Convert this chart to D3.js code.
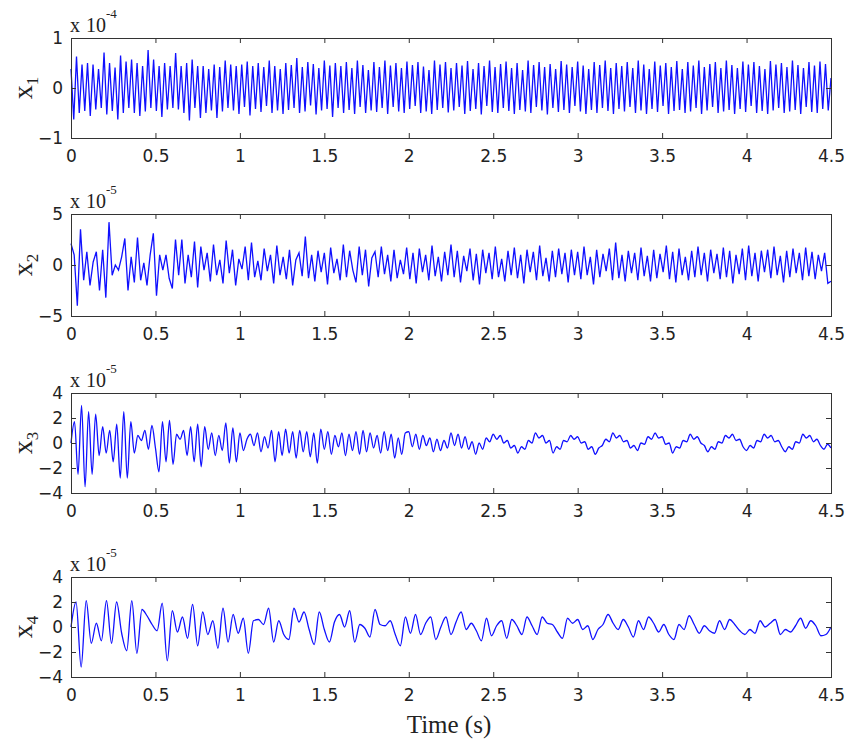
<!DOCTYPE html>
<html>
<head>
<meta charset="utf-8">
<script src="https://d3js.org/d3.v7.min.js"></script>
<style>
    body { margin: 0; background: #fff; }
    svg { display: block; }
    .tick text { font-family: 'DejaVu Sans', sans-serif; font-size: 17px; fill: #222; }
    .serif { font-family: 'Liberation Serif', 'Times New Roman', serif; fill: #222; }
</style>
</head>
<body>
<div id="chart"></div>
<script>
'use strict';

var T_END = 4.5;
var TIME_TICKS = [0, 0.5, 1, 1.5, 2, 2.5, 3, 3.5, 4, 4.5];

// x1 extrema, in units of 1e-4
var x1 = [
    0.38,-0.63,0.63,-0.50,0.47,-0.46,0.50,-0.56,0.47,-0.43,0.38,-0.40,0.71,-0.53,0.50,-0.46,0.41,-0.63,0.65,-0.50,
    0.53,-0.40,0.57,-0.50,0.50,-0.56,0.44,-0.47,0.76,-0.40,0.57,-0.46,0.44,-0.58,0.50,-0.43,0.44,-0.40,0.70,-0.43,
    0.44,-0.50,0.50,-0.65,0.57,-0.40,0.44,-0.60,0.44,-0.50,0.38,-0.45,0.47,-0.60,0.42,-0.47,0.55,-0.40,0.47,-0.45,
    0.44,-0.52,0.47,-0.38,0.53,-0.55,0.44,-0.42,0.50,-0.48,0.42,-0.36,0.55,-0.50,0.44,-0.45,0.38,-0.52,0.50,-0.44,
    0.46,-0.40,0.60,-0.50,0.42,-0.47,0.52,-0.35,0.48,-0.53,0.40,-0.45,0.55,-0.42,0.45,-0.58,0.50,-0.40,0.44,-0.50,
    0.52,-0.44,0.40,-0.52,0.55,-0.38,0.46,-0.50,0.36,-0.45,0.52,-0.48,0.42,-0.40,0.55,-0.52,0.45,-0.38,0.50,-0.47,
    0.40,-0.50,0.53,-0.42,0.46,-0.36,0.52,-0.50,0.43,-0.47,0.36,-0.52,0.55,-0.44,0.47,-0.40,0.52,-0.49,0.40,-0.45,
    0.50,-0.38,0.45,-0.52,0.54,-0.46,0.38,-0.42,0.50,-0.53,0.44,-0.36,0.55,-0.48,0.42,-0.50,0.48,-0.40,0.53,-0.46,
    0.40,-0.52,0.50,-0.44,0.36,-0.47,0.55,-0.50,0.46,-0.38,0.52,-0.45,0.42,-0.53,0.48,-0.40,0.38,-0.48,0.54,-0.44,
    0.47,-0.50,0.42,-0.36,0.53,-0.47,0.45,-0.52,0.38,-0.44,0.52,-0.50,0.46,-0.40,0.55,-0.46,0.40,-0.52,0.50,-0.42,
    0.44,-0.47,0.52,-0.38,0.40,-0.50,0.55,-0.45,0.47,-0.52,0.38,-0.42,0.53,-0.48,0.45,-0.36,0.50,-0.52,0.42,-0.46,
    0.54,-0.44,0.38,-0.50,0.52,-0.47,0.45,-0.40,0.55,-0.52,0.42,-0.45,0.48,-0.38,0.52,-0.50,0.40,-0.47,0.55,-0.44,
    0.46,-0.52,0.40,-0.42,0.53,-0.48,0.47,-0.36,0.52,-0.50,0.44,-0.46,0.38,-0.52,0.54,-0.45,0.47,-0.40,0.50,-0.50,
    0.42,-0.47,0.55,-0.44,0.46,-0.52,0.40,-0.38,0.52,-0.48,0.45,-0.50,0.53,-0.42,0.48,-0.45,0.20
];

// x2, units of 1e-5
var x2 = [
    2.1,1.0,-4.0,3.5,-1.5,1.3,-2.0,0.3,1.3,-2.5,1.5,-3.2,4.2,-1.0,0.0,-0.5,0.8,2.6,-2.5,0.8,
    -1.7,2.7,-1.5,0.2,-2.0,1.0,3.1,-3.0,1.0,-0.5,1.0,-1.3,-2.3,2.5,-1.0,2.5,-1.8,1.0,-1.2,2.3,
    -2.2,1.8,-0.5,1.2,-1.6,2.0,-1.0,0.5,-1.8,2.4,-0.8,1.5,-2.0,0.6,-0.4,1.8,-1.5,2.2,-1.2,0.4,
    -1.5,1.6,-0.6,1.0,-1.8,1.9,-1.0,0.8,-1.4,1.5,-2.0,0.5,1.2,-1.1,2.8,-1.3,1.0,-1.6,1.4,-0.7,
    1.2,-1.9,1.7,-0.8,0.6,-1.5,2.0,-1.2,1.4,-0.5,-1.7,1.8,-1.0,1.5,-2.1,0.7,1.3,-1.2,1.8,-0.9,
    1.0,-1.6,1.5,-1.3,0.5,-0.9,1.7,-1.4,1.2,-1.8,1.6,-0.7,1.0,-1.5,1.9,-1.1,0.8,-1.6,1.3,-1.0,
    2.0,-1.2,1.4,-1.7,0.9,-0.6,1.6,-1.5,1.1,-1.9,1.5,-0.8,1.2,-1.4,1.8,-1.2,0.6,-1.6,1.4,-1.0,
    1.7,-1.3,1.0,-1.8,1.5,-0.7,1.3,-1.5,1.9,-1.1,0.7,-1.6,1.4,-1.2,1.6,-0.9,1.2,-1.7,1.5,-1.0,
    1.3,-1.4,1.8,-1.0,0.8,-1.9,1.5,-1.2,1.1,-0.6,1.6,-1.5,2.2,-1.3,1.0,-1.6,1.4,-0.8,1.2,-1.5,
    1.7,-1.1,0.9,-1.6,1.5,-1.3,1.1,-0.7,1.9,-1.4,1.3,-1.7,1.6,-1.0,0.8,-1.5,1.4,-1.2,1.8,-1.0,
    1.2,-1.6,1.5,-0.8,1.1,-1.4,1.7,-1.2,1.4,-1.8,1.0,-0.9,1.6,-1.5,1.9,-1.1,1.2,-1.6,1.4,-0.7,
    1.5,-1.3,1.8,-1.0,0.9,-1.7,1.4,-1.2,1.6,-0.8,1.2,-1.5,1.7,-1.1,1.3,-1.4,1.0,-0.6,1.2,-1.8,
    -1.6
];

// x3, units of 1e-5
var x3 = [
    0.0,1.7,-2.5,3.0,-3.5,2.5,-2.5,2.3,-1.0,1.3,-0.8,1.0,-1.5,1.5,-2.8,2.5,-2.8,1.7,-0.8,0.6,0.2,1.0,-0.5,1.4,
    -0.4,-2.3,1.7,-1.5,1.8,-1.7,0.7,0.3,1.0,-1.0,1.3,-1.5,1.5,-1.9,1.3,-0.5,0.8,-1.0,0.6,-0.6,1.6,-1.6,1.2,-1.5,
    0.8,-0.6,0.3,0.7,-0.2,0.8,-0.7,0.5,-0.4,1.0,-1.5,0.9,-1.0,1.1,-0.8,0.9,-1.2,1.0,-0.7,0.9,-1.1,0.8,-1.6,1.1,
    -0.5,0.9,-0.9,0.6,-0.3,0.8,-1.0,0.7,-0.6,0.9,-0.9,1.0,-0.7,0.8,-0.4,0.6,-0.8,0.9,-0.6,0.7,-1.2,0.4,-0.9,0.8,
    0.9,-0.3,0.7,-0.5,0.6,-0.2,0.4,-0.7,0.3,-0.6,0.2,-0.4,0.8,-0.2,0.7,-0.4,0.5,-0.5,0.1,-0.9,0.0,-0.5,0.4,0.1,
    0.7,0.3,0.6,0.0,0.2,-0.4,-0.2,-0.8,-0.3,-0.5,0.2,0.0,0.8,0.4,0.6,0.0,0.2,-0.8,-0.3,-0.5,0.2,0.1,0.6,0.3,
    0.5,0.0,0.1,-0.5,-0.3,-0.9,-0.4,-0.2,0.3,0.1,0.8,0.4,0.6,0.1,0.2,-0.4,-0.2,-0.6,0.0,-0.1,0.5,0.3,0.8,0.4,
    0.5,-0.1,0.0,-0.8,-0.3,-0.4,0.2,0.1,0.7,0.3,0.5,0.0,-0.2,-0.7,-0.3,-0.5,0.1,0.0,0.6,0.4,0.7,0.2,0.3,-0.3,
    -0.6,-0.2,-0.4,0.2,0.1,0.7,0.4,0.6,0.1,0.2,-0.3,-0.7,-0.3,-0.5,0.1,0.0,0.7,0.4,0.6,0.1,0.3,-0.2,-0.5,-0.1,-0.4
];

// x4, units of 1e-5
var x4 = [
    0.0,2.0,-3.2,2.1,-1.3,0.3,-1.1,2.1,-1.3,2.0,-0.5,-1.9,2.1,-2.1,1.4,0.9,0.2,-0.3,1.9,-2.7,
    1.3,-0.4,0.8,-0.9,1.8,-1.5,1.2,-0.6,0.5,-1.7,1.5,-1.2,1.0,-0.5,0.7,-2.1,0.5,0.6,0.2,1.5,
    -1.2,0.5,-0.6,-1.0,1.5,0.4,1.2,-0.2,-1.4,1.2,-0.2,-1.2,0.4,1.0,0.0,1.3,-1.2,0.2,-0.1,-0.8,
    1.4,0.2,0.1,0.5,-0.6,-1.5,0.8,-0.5,1.0,-0.6,0.3,0.8,-1.0,0.0,0.8,-0.6,0.4,1.2,-0.2,0.3,
    -0.3,-1.1,0.7,-0.7,0.1,0.5,-0.9,0.6,0.1,-0.6,0.8,0.1,-0.6,0.8,0.3,0.2,-0.4,-0.9,0.7,0.3,
    0.6,-0.2,0.1,-1.0,-0.2,0.2,1.0,0.3,-0.2,0.6,0.0,-0.8,0.5,-0.2,0.8,0.3,-0.4,0.2,-0.6,-1.0,
    0.2,-0.2,0.9,0.2,-0.5,0.1,-0.3,-0.5,0.5,-0.2,0.6,0.2,-0.3,-0.6,-0.2,-0.5,0.5,0.0,0.3,0.6,
    -0.6,-0.2,-0.4,0.1,0.7,-0.1,0.5,0.1,-0.7,-0.6,0.0
];

var panels = [
    { sub: '1', values: x1, exp: '-4', domain: [-1, 1], ticks: [-1, 0, 1], top: 38, bottom: 138, smooth: false },
    { sub: '2', values: x2, exp: '-5', domain: [-5, 5], ticks: [-5, 0, 5], top: 214, bottom: 316, smooth: false },
    { sub: '3', values: x3, exp: '-5', domain: [-4, 4], ticks: [-4, -2, 0, 2, 4], top: 393, bottom: 493, smooth: true },
    { sub: '4', values: x4, exp: '-5', domain: [-4, 4], ticks: [-4, -2, 0, 2, 4], top: 577, bottom: 677, smooth: true }
];

var svg = d3.select('#chart').append('svg')
    .attr('width', 845)
    .attr('height', 743);

var x = d3.scaleLinear().domain([0, T_END]).range([71, 831]);

panels.forEach(drawPanel);

svg.append('text')
    .attr('class', 'serif')
    .attr('x', 449)
    .attr('y', 733)
    .attr('text-anchor', 'middle')
    .style('font-size', '25px')
    .text('Time (s)');

function drawPanel(p) {
    var y = d3.scaleLinear().domain(p.domain).range([p.bottom, p.top]);
    var step = T_END / (p.values.length - 1);
    var g = svg.append('g');

    var line = d3.line()
        .x(function(d, i) { return x(i * step); })
        .y(function(d) { return y(d); })
        .curve(p.smooth ? d3.curveMonotoneX : d3.curveLinear);

    g.append('path')
        .datum(p.values)
        .attr('fill', 'none')
        .attr('stroke', '#1010ff')
        .attr('stroke-width', 1.3)
        .attr('d', line);

    // ticks point inward on all four sides, labels only bottom/left
    g.append('g')
        .attr('transform', 'translate(0,' + p.bottom + ')')
        .style('color', '#333')
        .call(d3.axisBottom(x).tickValues(TIME_TICKS).tickSize(-5).tickSizeOuter(0).tickPadding(12).tickFormat(d3.format('~g')))
        .call(function(a) { a.select('.domain').remove(); });
    g.append('g')
        .attr('transform', 'translate(0,' + p.top + ')')
        .style('color', '#333')
        .call(d3.axisTop(x).tickValues(TIME_TICKS).tickSize(-5).tickSizeOuter(0).tickFormat(''))
        .call(function(a) { a.select('.domain').remove(); });
    g.append('g')
        .attr('transform', 'translate(71,0)')
        .style('color', '#333')
        .call(d3.axisLeft(y).tickValues(p.ticks).tickSize(-5).tickSizeOuter(0).tickPadding(8).tickFormat(d3.format('d')))
        .call(function(a) { a.select('.domain').remove(); });
    g.append('g')
        .attr('transform', 'translate(831,0)')
        .style('color', '#333')
        .call(d3.axisRight(y).tickValues(p.ticks).tickSize(-5).tickSizeOuter(0).tickFormat(''))
        .call(function(a) { a.select('.domain').remove(); });

    g.append('rect')
        .attr('x', 71)
        .attr('y', p.top)
        .attr('width', 760)
        .attr('height', p.bottom - p.top)
        .attr('fill', 'none')
        .attr('stroke', '#333')
        .attr('shape-rendering', 'crispEdges');

    var expText = g.append('text')
        .attr('class', 'serif')
        .attr('x', 70)
        .attr('y', p.top - 6)
        .style('font-size', '20px');
    expText.append('tspan').text('x');
    expText.append('tspan').attr('dx', 6).text('10');
    expText.append('tspan').attr('dy', -14).style('font-size', '13px').text(p.exp);

    var label = g.append('text')
        .attr('class', 'serif')
        .attr('transform', 'translate(32,' + ((p.top + p.bottom) / 2) + ') rotate(-90)')
        .attr('text-anchor', 'middle')
        .style('font-size', '28px');
    label.append('tspan').text('x');
    label.append('tspan').attr('dy', 6).style('font-size', '17px').text(p.sub);
}
</script>
</body>
</html>
